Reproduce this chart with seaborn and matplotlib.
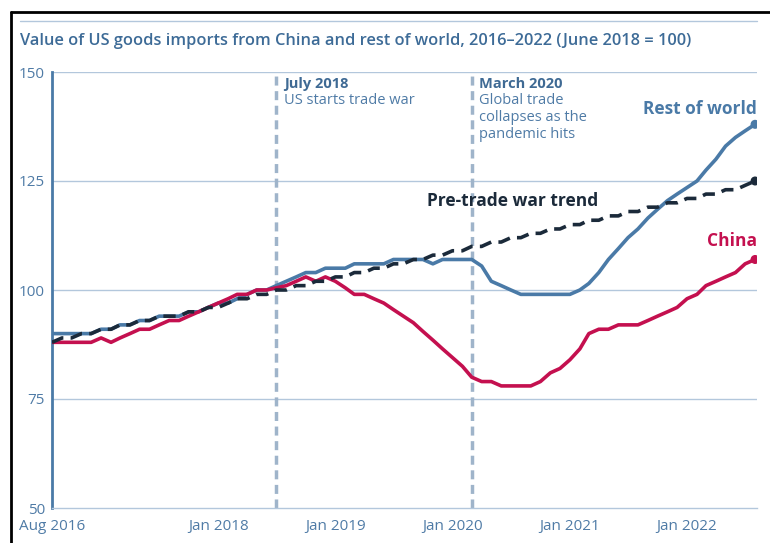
import matplotlib
matplotlib.use("Agg")
import matplotlib.pyplot as plt
import matplotlib.lines as mlines
import seaborn as sns
import pandas as pd

months = pd.date_range("2016-08-01", "2022-08-01", freq="MS")

rest_of_world = [90, 90, 90, 90, 90, 91, 91, 92, 92, 93,
                 93, 94, 94, 94, 95, 95, 96, 97, 97, 98,
                 99, 100, 100, 101, 102, 103, 104, 104, 105, 105,
                 105, 106, 106, 106, 106, 107, 107, 107, 107, 106,
                 107, 107, 107, 107, 105.5, 102, 101, 100, 99, 99,
                 99, 99, 99, 99, 100, 101.5, 104, 107, 109.5, 112,
                 114, 116.5, 118.5, 120.5, 122, 123.5, 125, 127.5, 130, 133,
                 135, 136.5, 138]

china = [88, 88, 88, 88, 88, 89, 88, 89, 90, 91,
         91, 92, 93, 93, 94, 95, 96, 97, 98, 99,
         99, 100, 100, 100.5, 101, 102, 103, 102, 103, 102,
         100.5, 99, 99, 98, 97, 95.5, 94, 92.5, 90.5, 88.5,
         86.5, 84.5, 82.5, 80, 79, 79, 78, 78, 78, 78,
         79, 81, 82, 84, 86.5, 90, 91, 91, 92, 92,
         92, 93, 94, 95, 96, 98, 99, 101, 102, 103,
         104, 106, 107]

trend = [88, 89, 89, 90, 90, 91, 91, 92, 92, 93,
         93, 94, 94, 94, 95, 95, 96, 96, 97, 98,
         98, 99, 99, 100, 100, 101, 101, 102, 102, 103,
         103, 104, 104, 105, 105, 106, 106, 107, 107, 108,
         108, 109, 109, 110, 110, 111, 111, 112, 112, 113,
         113, 114, 114, 115, 115, 116, 116, 117, 117, 118,
         118, 119, 119, 120, 120, 121, 121, 122, 122, 123,
         123, 124, 125]

tick_dates = ["2016-08-01", "2018-01-01", "2019-01-01", "2020-01-01", "2021-01-01", "2022-01-01"]
tick_labels = ["Aug 2016", "Jan 2018", "Jan 2019", "Jan 2020", "Jan 2021", "Jan 2022"]
event_dates = ["2018-07-01", "2020-03-01"]

BLUE = "#4a7aa7"
RED = "#c4104f"
DARK = "#1b2a3a"
GRID = "#b3c7dc"
VLINE = "#9fb4ca"
TXT = "#4f7ba6"

df = pd.DataFrame({
    "date": list(months) * 3,
    "value": rest_of_world + china + trend,
    "series": ["Rest of world"] * len(months) + ["China"] * len(months) + ["Trend"] * len(months),
})

sns.set_style("white")
plt.rcParams["font.family"] = ["Open Sans", "DejaVu Sans"]

fig = plt.figure(figsize=(7.7, 5.43), dpi=100)
ax = fig.add_axes([52 / 770, 1 - 508 / 543, 705 / 770, 436 / 543])

for y in [75, 100, 125, 150]:
    ax.axhline(y, color=GRID, lw=1, zorder=0)
for d in event_dates:
    ax.axvline(pd.Timestamp(d), color=VLINE, lw=2.5, ls=(0, (2.6, 1.6)), zorder=1)

sns.lineplot(data=df[df.series == "Rest of world"], x="date", y="value", color=BLUE, lw=2.6, ax=ax, zorder=3)
sns.lineplot(data=df[df.series == "China"], x="date", y="value", color=RED, lw=2.6, ax=ax, zorder=4)
sns.lineplot(data=df[df.series == "Trend"], x="date", y="value", color=DARK, lw=2.6, ax=ax, zorder=5,
             linestyle=(0, (3.4, 2.0)))

ax.scatter([months[-1]] * 3, [rest_of_world[-1], china[-1], trend[-1]],
           color=[BLUE, RED, DARK], s=30, zorder=6)

ax.set_xlim(pd.Timestamp("2016-08-01"), pd.Timestamp("2022-08-07"))
ax.set_ylim(50, 150)
ax.set_yticks([50, 75, 100, 125, 150])
ax.set_xticks([pd.Timestamp(d) for d in tick_dates])
ax.set_xticklabels(tick_labels)
ax.tick_params(axis="both", length=0, labelsize=11, labelcolor=TXT)
ax.tick_params(axis="y", pad=5)
ax.tick_params(axis="x", pad=8)
ax.set_xlabel("")
ax.set_ylabel("")
for s in ["top", "right"]:
    ax.spines[s].set_visible(False)
ax.spines["left"].set_color(BLUE)
ax.spines["left"].set_linewidth(2)
ax.spines["bottom"].set_color(GRID)
ax.spines["bottom"].set_linewidth(1)

ax.text(pd.Timestamp("2022-08-07"), 141.5, "Rest of world", color=BLUE, fontsize=12.5,
        fontweight="bold", ha="right", va="center")
ax.text(pd.Timestamp("2022-08-07"), 111.3, "China", color=RED, fontsize=12.5,
        fontweight="bold", ha="right", va="center")
ax.text(pd.Timestamp("2020-07-05"), 120.3, "Pre-trade war trend", color=DARK, fontsize=12.5,
        fontweight="bold", ha="center", va="center")

ax.text(pd.Timestamp("2018-07-25"), 147.3, "July 2018", color="#3f6a94", fontsize=10.5,
        fontweight="bold", ha="left", va="center")
ax.text(pd.Timestamp("2018-07-25"), 143.4, "US starts trade war", color=TXT, fontsize=10.5,
        ha="left", va="center")
ax.text(pd.Timestamp("2020-03-25"), 147.3, "March 2020", color="#3f6a94", fontsize=10.5,
        fontweight="bold", ha="left", va="center")
for k, line in enumerate(["Global trade", "collapses as the", "pandemic hits"]):
    ax.text(pd.Timestamp("2020-03-25"), 143.4 - 3.9 * k, line, color=TXT,
            fontsize=10.5, ha="left", va="center")

fig.text(20 / 770, 1 - 41 / 543, "Value of US goods imports from China and rest of world, 2016–2022 (June 2018 = 100)",
         color="#3d6b97", fontsize=11.8, fontweight="semibold", ha="left", va="center")
fig.add_artist(mlines.Line2D([20 / 770, 757 / 770], [1 - 21 / 543] * 2, color=GRID, lw=1))
fig.add_artist(mlines.Line2D([11 / 770, 11 / 770], [0, 1 - 12 / 543], color="black", lw=2))
fig.add_artist(mlines.Line2D([11 / 770, 1], [1 - 12 / 543] * 2, color="black", lw=2))

fig.savefig("out.png", dpi=100)
